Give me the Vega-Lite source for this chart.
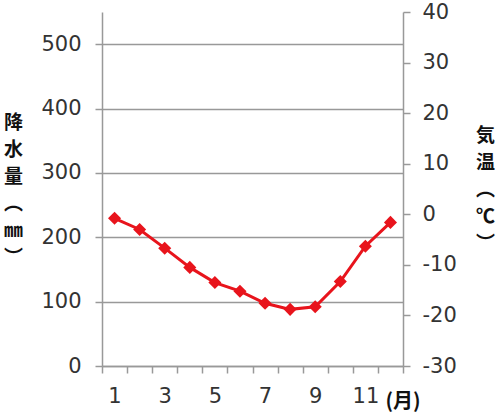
{
  "$schema": "https://vega.github.io/schema/vega-lite/v6.json",
  "width": 301,
  "height": 354,
  "autosize": "none",
  "padding": {"left": 102, "top": 12, "right": 97, "bottom": 53},
  "background": "white",
  "config": {
    "view": {"stroke": null},
    "axis": {
      "labelFont": "DejaVu Sans",
      "labelFontSize": 21,
      "labelColor": "#333333",
      "domainColor": "#999999",
      "domainWidth": 1.5,
      "tickColor": "#999999",
      "tickWidth": 1.5,
      "tickSize": 7,
      "gridColor": "#999999",
      "gridWidth": 1.3,
      "titleFont": "Noto Sans CJK JP",
      "titleFontSize": 19,
      "titleFontWeight": "bold",
      "titleColor": "#111111"
    }
  },
  "data": {
    "values": [
      {"month": 1, "temp": -0.8},
      {"month": 2, "temp": -3.0},
      {"month": 3, "temp": -6.7},
      {"month": 4, "temp": -10.5},
      {"month": 5, "temp": -13.5},
      {"month": 6, "temp": -15.2},
      {"month": 7, "temp": -17.6},
      {"month": 8, "temp": -18.8},
      {"month": 9, "temp": -18.3},
      {"month": 10, "temp": -13.3},
      {"month": 11, "temp": -6.3},
      {"month": 12, "temp": -1.6}
    ]
  },
  "encoding": {
    "x": {
      "field": "month",
      "type": "ordinal",
      "scale": {"paddingInner": 0, "paddingOuter": 0},
      "axis": {
        "title": "(月)",
        "titleFontSize": 20,
        "titleAlign": "left",
        "titleBaseline": "middle",
        "titleX": 283,
        "titleY": 35,
        "labelAngle": 0,
        "labelOverlap": false,
        "labelPadding": 12,
        "tickBand": "extent",
        "labelExpr": "datum.value % 2 === 1 ? datum.label : ''",
        "grid": false
      }
    }
  },
  "layer": [
    {
      "mark": {"type": "point", "opacity": 0},
      "encoding": {
        "y": {
          "datum": 0,
          "type": "quantitative",
          "scale": {"domain": [0, 550], "nice": false},
          "axis": {
            "orient": "left",
            "values": [0, 100, 200, 300, 400, 500],
            "grid": true,
            "labelPadding": 14,
            "title": ["降", "水", "量", "︵", "㎜", "︶"],
            "titleAngle": 0,
            "titleAlign": "center",
            "titleBaseline": "top",
            "titleLineHeight": 27,
            "titleX": -89,
            "titleY": 101
          }
        }
      }
    },
    {
      "mark": {
        "type": "line",
        "color": "#e8141c",
        "strokeWidth": 3,
        "point": {"shape": "diamond", "size": 170, "filled": true, "color": "#e8141c", "opacity": 1}
      },
      "encoding": {
        "y": {
          "field": "temp",
          "type": "quantitative",
          "scale": {"domain": [-30, 40], "nice": false},
          "axis": {
            "orient": "right",
            "values": [-30, -20, -10, 0, 10, 20, 30, 40],
            "grid": false,
            "labelPadding": 12,
            "labelExpr": "datum.value < 0 ? '-' + abs(datum.value) : '' + datum.value",
            "title": ["気", "温", "︵", "℃", "︶"],
            "titleAngle": 0,
            "titleAlign": "center",
            "titleBaseline": "top",
            "titleLineHeight": 27,
            "titleX": 82,
            "titleY": 114
          }
        }
      }
    }
  ],
  "resolve": {"scale": {"y": "independent"}}
}
